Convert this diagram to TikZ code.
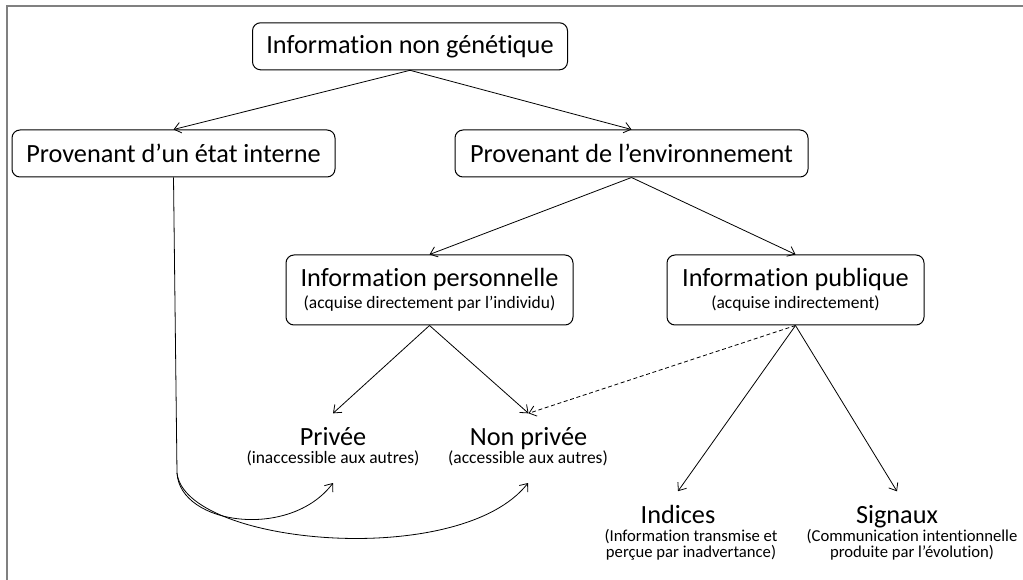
\documentclass[tikz,border=0pt]{standalone}
\usepackage{fontspec}
\setmainfont{Carlito}[Ligatures=NoCommon]
\usetikzlibrary{arrows.meta}
\newdimen\px \px=0.75pt
\newcommand{\bigtxt}{\fontsize{19.7pt}{23pt}\selectfont}
\newcommand{\subtxt}{\fontsize{13.1pt}{16pt}\selectfont}
\newcommand{\tinytxt}{\fontsize{12.5pt}{11.5pt}\selectfont}
\begin{document}
\begin{tikzpicture}[x=0.75pt, y=-0.75pt,
        infobox/.style={draw, rounded corners=6pt, line width=0.75pt, inner sep=0pt, align=center},
        leaf/.style={inner xsep=0pt, inner ysep=10pt, anchor=base},
        leafsub/.style={inner xsep=0pt, inner ysep=13pt, anchor=base},
        link/.style={-{Straight Barb[length=5pt, width=8pt]}, line width=0.6pt}
      ]
      \useasboundingbox (0,0) rectangle (1023,580);
      \draw[gray, line width=1.5pt] (6.5,590) -- (6.5,6.5) -- (1030,6.5);

      % boxes
      \node[infobox, minimum width=315\px, minimum height=47\px] at (410, 46.3) (info) {\bigtxt Information non génétique};
      \node[infobox, minimum width=323\px, minimum height=47\px] at (173.5, 153.5) (interne) {\bigtxt Provenant d’un état interne};
      \node[infobox, minimum width=353\px, minimum height=47\px] at (631.5, 153.5) (env) {\bigtxt Provenant de l’environnement};
      \node[infobox, minimum width=287\px, minimum height=70\px] at (429.5, 290) (perso) {\bigtxt Information personnelle\\[2.4pt]\subtxt (acquise directement par l’individu)};
      \node[infobox, minimum width=257\px, minimum height=70\px] at (795.5, 290) (publique) {\bigtxt Information publique\\[2.4pt]\subtxt (acquise indirectement)};

      % leaves
      \node[leaf] at (333, 445) (privee) {\bigtxt Privée};
      \node[leafsub] at (333, 463) (priveesub) {\subtxt (inaccessible aux autres)};
      \node[leaf] at (528.5, 445) (nonprivee) {\bigtxt Non privée};
      \node[leafsub] at (528, 463) (nonpriveesub) {\subtxt (accessible aux autres)};
      \node[leaf] at (678, 523) (indices) {\bigtxt Indices};
      \node[inner sep=0pt, align=center] at (691, 545) (indicessub) {\tinytxt (Information transmise et\\\tinytxt perçue par inadvertance)};
      \node[leaf] at (897, 523) (signaux) {\bigtxt Signaux};
      \node[inner sep=0pt, align=center] at (912, 545) (signauxsub) {\tinytxt (Communication intentionnelle\\\tinytxt produite par l’évolution)};

      % edges
      \draw[link] (info.south) -- (interne.north);
      \draw[link] (info.south) -- (env.north);
      \draw[link] (env.south) -- (perso.north);
      \draw[link] (env.south) -- (publique.north);
      \draw[link] (perso.south) -- (privee.north);
      \draw[link] (perso.south) -- (nonprivee.north);
      \draw[link, dash pattern=on 3pt off 2pt] (publique.south) -- (nonprivee.north);
      \draw[link] (publique.south) -- (indices.north);
      \draw[link] (publique.south) -- (signaux.north);

      % internal state
      \coordinate (turn) at (177, 473);
      \draw[line width=0.6pt] (interne.south) -- (turn);
      \draw[link] (turn) .. controls (180, 525) and (290, 540) .. (priveesub.south);
      \draw[link] (turn) .. controls (185, 545) and (460, 570) .. (nonpriveesub.south);
  \end{tikzpicture}
\end{document}
